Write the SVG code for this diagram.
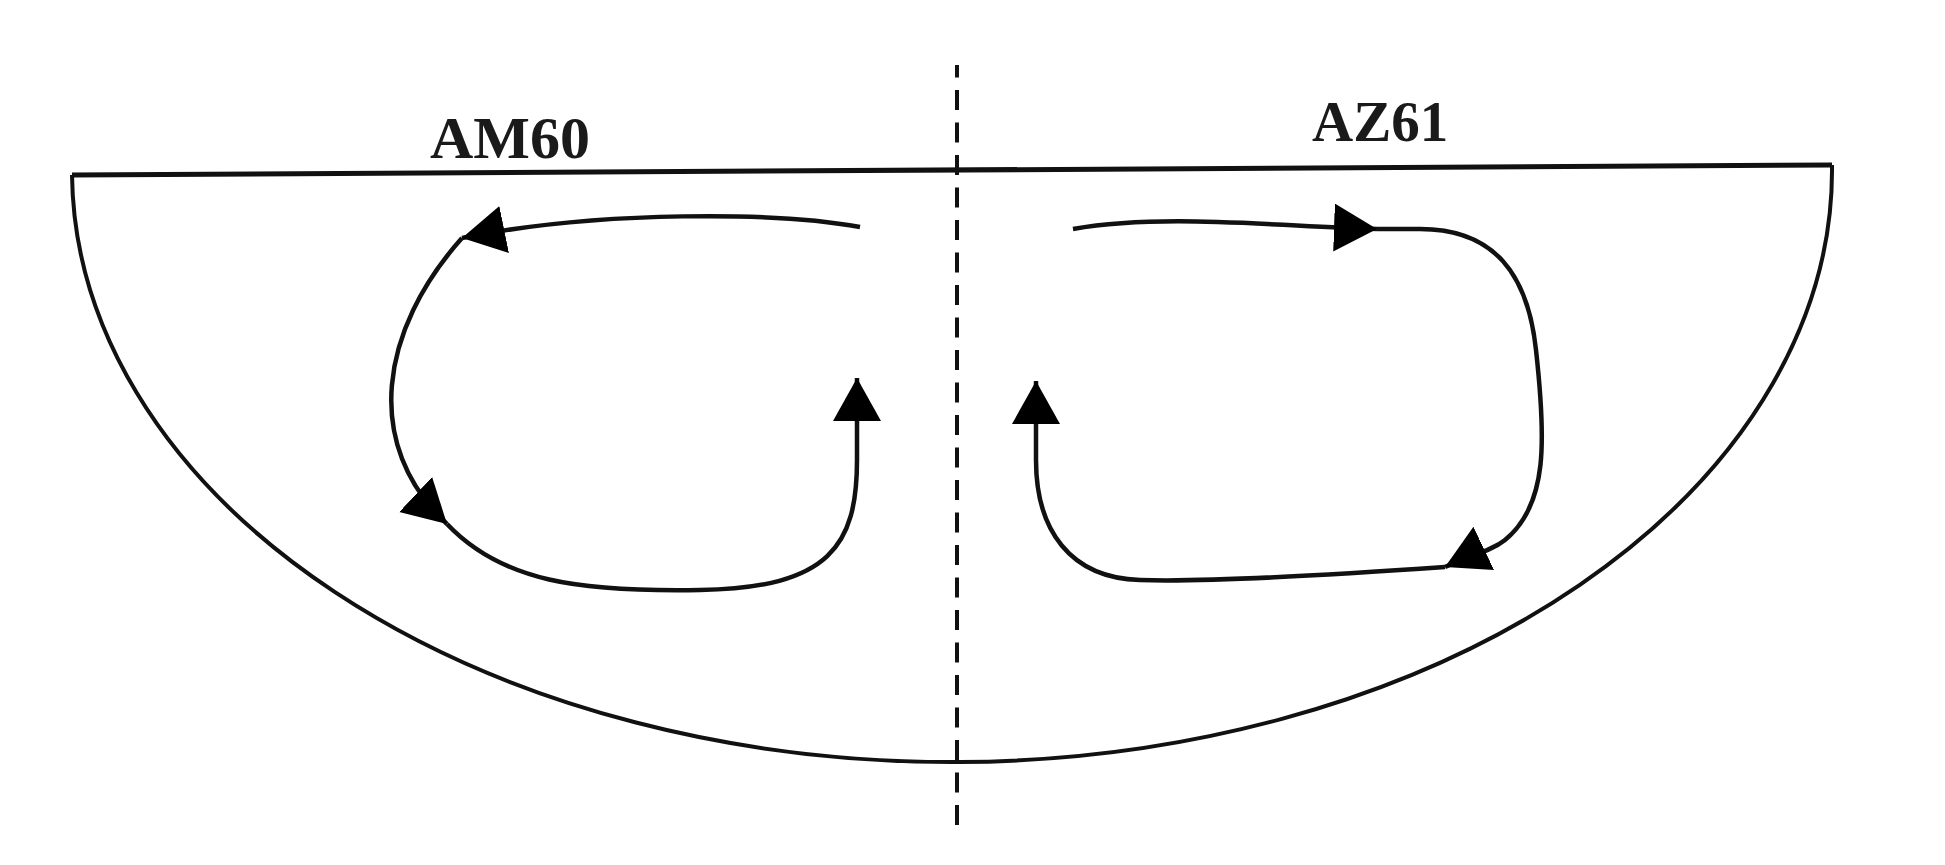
<svg xmlns="http://www.w3.org/2000/svg" width="1945" height="865" viewBox="0 0 1945 865">
  <style>
    .outline { fill: none; stroke: #111; stroke-width: 4; }
    .top { fill: none; stroke: #111; stroke-width: 5; }
    .axis { fill: none; stroke: #111; stroke-width: 4; stroke-dasharray: 20 12.5; stroke-dashoffset: 7.5; }
    .flow { fill: none; stroke: #111; stroke-width: 4.5; stroke-linejoin: round; marker-end: url(#arrow); }
    .label { font-family: "Liberation Serif", "Times New Roman", serif; font-weight: bold; fill: #1a1a1a; }
  </style>
  <defs>
    <marker id="arrow" markerUnits="userSpaceOnUse" markerWidth="48" markerHeight="50" refX="43" refY="24" orient="auto">
      <path d="M0,0 L43,24 L0,48 z" fill="#000"/>
    </marker>
  </defs>
  <rect width="1945" height="865" fill="#fff"/>

  <g id="vessel">
    <path class="outline" d="M72,175 A880,592 0 0 0 1832,165"/>
    <line class="top" x1="72" y1="175" x2="1832" y2="165"/>
  </g>

  <g id="centerline">
    <line class="axis" x1="957" y1="65" x2="957" y2="826"/>
  </g>

  <g id="label-am60">
    <text class="label" x="430" y="158" font-size="60">AM60</text>
  </g>
  <g id="label-az61">
    <text class="label" x="1312" y="141" font-size="57">AZ61</text>
  </g>

  <g id="connectors">
    <!-- AM60 loop (counter-clockwise) -->
    <path class="flow" d="M860,227 C780,212 600,210 462,238"/>
    <path class="flow" d="M462,238 C380,330 362,444 447,524"/>
    <path class="flow" d="M447,524 C502,582 580,592 700,590 C830,588 857,545 857,460 L857,378"/>
    <!-- AZ61 loop (clockwise) -->
    <path class="flow" d="M1073,229 C1160,214 1260,225 1377,229"/>
    <path class="flow" d="M1377,229 L1420,229 C1495,229 1528,275 1536,350 C1546,440 1548,505 1505,540 C1490,552 1468,556 1445,567"/>
    <path class="flow" d="M1445,567 C1330,575 1200,582 1140,580 C1070,578 1036,530 1036,460 L1036,381"/>
  </g>
</svg>
